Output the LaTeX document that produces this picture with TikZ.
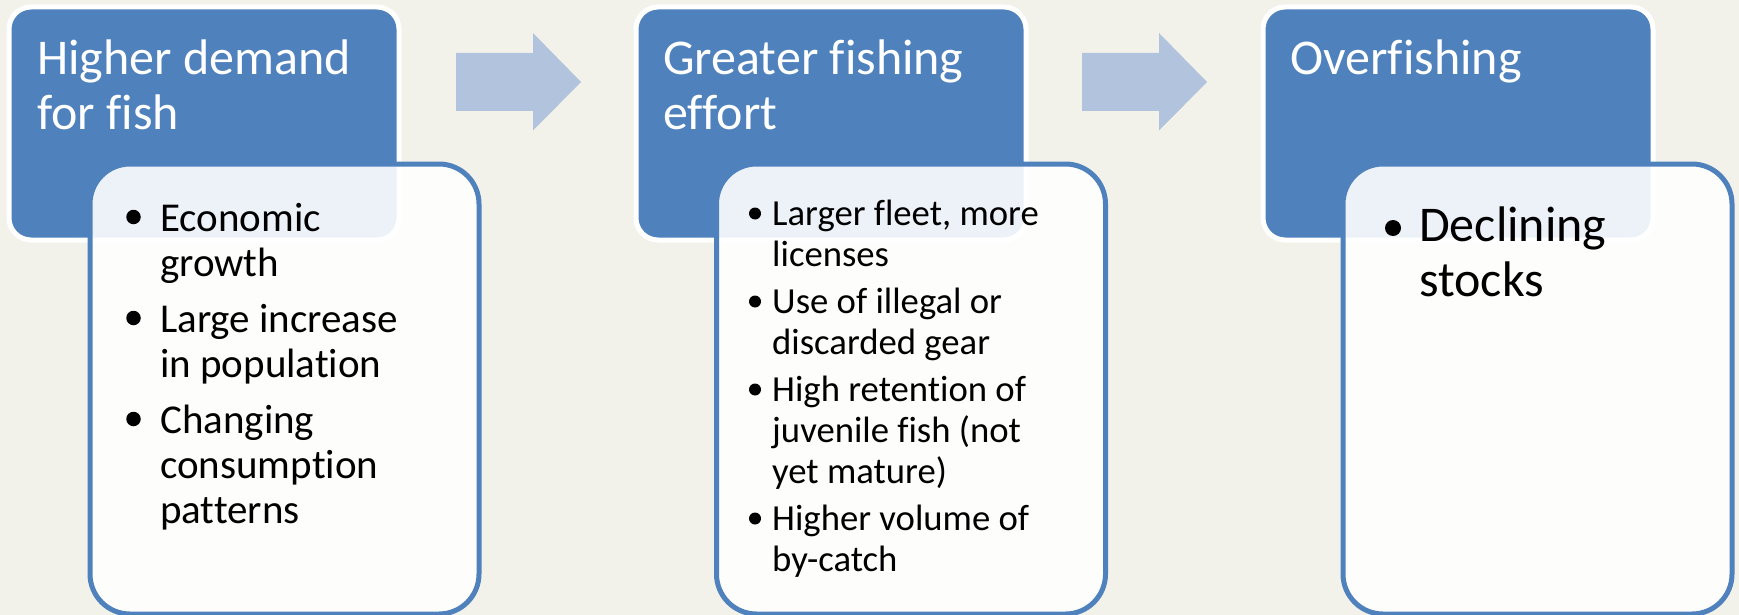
\documentclass[tikz,border=0pt]{standalone}
\usepackage{fontspec}
\setmainfont[Ligatures={NoCommon,NoRequired,NoContextual}]{Carlito}
\definecolor{bgcol}{HTML}{F2F2EA}
\definecolor{hdrblue}{HTML}{4F81BD}
\definecolor{arrblue}{HTML}{B2C3DD}
\tikzset{
  hdrbox/.style={rectangle, draw=white, line width=5pt, fill=hdrblue, rounded corners=22pt,
    minimum width=390pt, minimum height=233pt, anchor=north west, inner sep=0pt},
  bodybox/.style={rectangle, draw=hdrblue, line width=5pt, fill=white, fill opacity=0.9,
    rounded corners=40pt, minimum width=389pt, minimum height=450pt, anchor=north west, inner sep=0pt},
  flowarrow/.style={fill=arrblue},
  htext/.style={anchor=base west, inner sep=0pt, text=white, font=\fontsize{50}{55}\selectfont},
  txtA/.style={anchor=base west, inner sep=0pt, font=\fontsize{41}{46}\selectfont},
  txtB/.style={anchor=base west, inner sep=0pt, font=\fontsize{36.7}{41}\selectfont},
  txtC/.style={anchor=base west, inner sep=0pt, font=\fontsize{50}{55}\selectfont},
  dot/.style={circle, fill=black, inner sep=0pt, outer sep=0pt},
  dotA/.style={dot, minimum size=14.5pt},
  dotB/.style={dot, minimum size=12pt},
  dotC/.style={dot, minimum size=16pt},
}
\begin{document}
\begin{tikzpicture}[x=1pt,y=-1pt]
\path[use as bounding box, fill=bgcol] (0,0) rectangle (1739,615);

% arrows
\coordinate (a1) at (456,82);
\coordinate (a2) at (1082,82);
\foreach \a in {a1,a2}{
  \fill[flowarrow] (\a) ++(0,-29) -- ++(77,0) -- ++(0,-20) -- ++(48,49) -- ++(-48,48.5) -- ++(0,-19.5) -- ++(-77,0) -- cycle;
}

% header boxes
\node[hdrbox] (h1) at (6.5,4.5) {};
\node[hdrbox] (h2) at (633.5,4.5) {};
\node[hdrbox] (h3) at (1260.5,4.5) {};

% header texts
\node[htext] (h1l1) at (37,74.5) {Higher demand};
\node[htext] (h1l2) at (37,129.5) {for fish};
\node[htext] (h2l1) at (663,74.5) {Greater fishing};
\node[htext] (h2l2) at (663,129.5) {effort};
\node[htext] (h3l1) at (1290,74.5) {Overfishing};

% body boxes
\node[bodybox] (b1) at (87.5,161.5) {};
\node[bodybox] (b2) at (714,161.5) {};
\node[bodybox] (b3) at (1340.5,161.5) {};

% body 1
\node[dotA] (b1d1) at (133.5,217) {};
\node[txtA] (b1t1) at (160,231) {Economic};
\node[txtA] (b1t2) at (160,276) {growth};
\node[dotA] (b1d2) at (133.5,318) {};
\node[txtA] (b1t3) at (160,332) {Large increase};
\node[txtA] (b1t4) at (160,377) {in population};
\node[dotA] (b1d3) at (133.5,419) {};
\node[txtA] (b1t5) at (160,433) {Changing};
\node[txtA] (b1t6) at (160,478) {consumption};
\node[txtA] (b1t7) at (160,523) {patterns};

% body 2
\node[dotB] (b2d1) at (755,213.5) {};
\node[txtB] (b2t1) at (772,225) {Larger fleet, more};
\node[txtB] (b2t2) at (772,266) {licenses};
\node[dotB] (b2d2) at (755,301.5) {};
\node[txtB] (b2t3) at (772,313) {Use of illegal or};
\node[txtB] (b2t4) at (772,354) {discarded gear};
\node[dotB] (b2d3) at (755,389.5) {};
\node[txtB] (b2t5) at (772,401) {High retention of};
\node[txtB] (b2t6) at (772,442) {juvenile fish (not};
\node[txtB] (b2t7) at (772,483) {yet mature)};
\node[dotB] (b2d4) at (755,518.5) {};
\node[txtB] (b2t8) at (772,530) {Higher volume of};
\node[txtB] (b2t9) at (772,571) {by-catch};

% body 3
\node[dotC] (b3d1) at (1393,228) {};
\node[txtC] (b3t1) at (1419,241) {Declining};
\node[txtC] (b3t2) at (1419,296) {stocks};
\end{tikzpicture}
\end{document}
